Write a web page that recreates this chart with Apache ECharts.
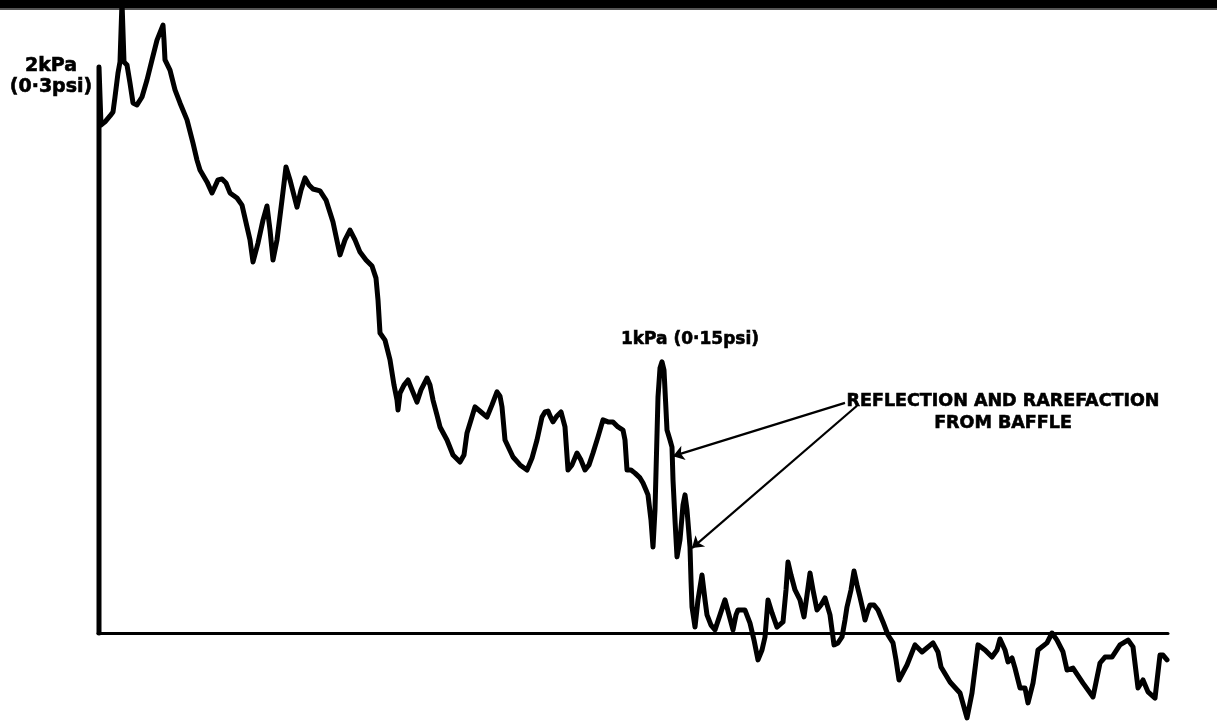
<!DOCTYPE html>
<html>
<head>
<meta charset="utf-8">
<script src="https://cdn.jsdelivr.net/npm/echarts@6/dist/echarts.min.js"></script>
<style>
html,body{margin:0;padding:0;background:#fff;}
#chart{width:1217px;height:723px;}
</style>
</head>
<body>
<div id="chart"></div>
<script>
// time (arbitrary units) and pressure (kPa) of the recorded trace
var timeUnits = [1,1,3,7,12,15,17,20,22,24,26,29,32,35,39,44,49,54,59,65,66,67,72,77,82,89,95,99,102,109,114,120,124,128,132,139,144,149,152,155,160,165,169,172,175,179,184,188,192,199,203,207,211,215,222,228,235,242,247,252,257,262,268,274,278,280,282,287,292,296,299,300,302,306,310,314,319,323,329,332,335,339,342,349,355,362,366,369,373,377,383,389,394,399,402,404,407,415,422,429,434,439,444,447,450,453,455,459,463,467,470,474,479,483,487,491,495,500,505,510,515,520,525,527,529,533,537,542,545,548,550,553,555,557,560,562,564,566,568,569,572,574,575,577,579,582,585,587,589,592,593,594,597,600,604,607,609,613,617,622,627,631,635,638,640,647,652,656,660,664,667,670,674,679,685,688,690,693,697,702,706,709,712,715,719,723,727,732,736,740,744,747,749,753,756,759,762,765,767,770,772,776,780,785,790,795,798,801,809,817,824,835,840,843,852,862,864,869,874,880,887,894,899,902,907,910,914,917,922,927,930,935,940,949,954,959,965,969,975,985,995,1002,1007,1014,1022,1030,1035,1040,1045,1050,1057,1062,1065,1069];
var pressureKPa = [0,2.000,1.795,1.806,1.827,1.841,1.894,1.979,2.018,2.230,2.018,2.007,1.943,1.873,1.866,1.894,1.954,2.025,2.095,2.148,2.095,2.025,1.989,1.919,1.873,1.813,1.731,1.671,1.636,1.594,1.555,1.601,1.604,1.590,1.555,1.537,1.512,1.435,1.389,1.311,1.378,1.459,1.509,1.424,1.318,1.389,1.530,1.647,1.601,1.505,1.565,1.608,1.583,1.569,1.562,1.530,1.452,1.336,1.389,1.424,1.389,1.346,1.318,1.297,1.254,1.177,1.060,1.035,0.965,0.876,0.823,0.788,0.848,0.876,0.894,0.859,0.816,0.859,0.901,0.876,0.823,0.770,0.728,0.682,0.629,0.604,0.629,0.707,0.753,0.799,0.781,0.763,0.806,0.852,0.837,0.799,0.682,0.622,0.594,0.576,0.618,0.682,0.763,0.781,0.784,0.760,0.746,0.767,0.781,0.728,0.576,0.594,0.636,0.611,0.576,0.594,0.636,0.693,0.753,0.746,0.746,0.728,0.717,0.682,0.576,0.576,0.565,0.548,0.530,0.505,0.488,0.399,0.304,0.435,0.834,0.936,0.958,0.929,0.788,0.717,0.682,0.657,0.541,0.399,0.269,0.329,0.452,0.488,0.435,0.304,0.187,0.092,0.021,0.117,0.205,0.117,0.064,0.028,0.011,0.064,0.117,0.064,0.011,0.064,0.081,0.081,0.035,-0.025,-0.095,-0.060,-0.014,0.117,0.071,0.021,0.039,0.152,0.251,0.205,0.152,0.117,0.057,0.134,0.212,0.152,0.081,0.099,0.124,0.064,-0.042,-0.035,-0.014,0.046,0.092,0.152,0.219,0.170,0.127,0.081,0.046,0.081,0.099,0.099,0.081,0.039,-0.007,-0.035,-0.095,-0.166,-0.113,-0.042,-0.067,-0.035,-0.067,-0.120,-0.173,-0.212,-0.237,-0.300,-0.212,-0.042,-0.060,-0.085,-0.060,-0.021,-0.060,-0.102,-0.088,-0.124,-0.194,-0.194,-0.247,-0.177,-0.060,-0.035,0,-0.025,-0.067,-0.131,-0.124,-0.177,-0.226,-0.106,-0.085,-0.085,-0.042,-0.025,-0.049,-0.194,-0.166,-0.208,-0.230,-0.078,-0.078,-0.095];

// annotation arrows: [start time, start kPa, tip time, tip kPa]
var arrowReflection = [747, 0.813, 575, 0.625];
var arrowRarefaction = [759, 0.803, 594, 0.300];

// texts
var scaleLabelTop = ['2kPa', '(0·3psi)'];
var peakLabel = '1kPa (0·15psi)';
var noteLines = ['REFLECTION AND RAREFACTION', 'FROM BAFFLE'];

var traceData = timeUnits.map(function (t, i) { return [t, pressureKPa[i]]; });

var chart = echarts.init(document.getElementById('chart'), null, {renderer: 'canvas'});
var textFont = '"DejaVu Sans", "Liberation Sans", sans-serif';

function arrowPair(a) {
  return [{coord: [a[0], a[1]]}, {coord: [a[2], a[3]]}];
}

function label(text, x, y, size) {
  return {type: 'text', x: x, y: y, style: {
    text: text, fill: '#000', stroke: '#000', lineWidth: 0.6,
    font: 'bold ' + size + 'px ' + textFont, textAlign: 'center', textVerticalAlign: 'middle'}};
}

chart.setOption({
  backgroundColor: '#ffffff',
  animation: false,
  grid: {left: 98, right: 49, top: 10.4, bottom: 5.1, containLabel: false},
  xAxis: {
    type: 'value', min: 0, max: 1070,
    axisLine: {show: true, onZero: true, lineStyle: {color: '#000', width: 3}},
    axisTick: {show: false}, axisLabel: {show: false}, splitLine: {show: false}
  },
  yAxis: {
    type: 'value', min: -0.3, max: 2.2,
    axisLine: {show: false}, axisTick: {show: false}, axisLabel: {show: false}, splitLine: {show: false}
  },
  series: [{
    type: 'line',
    data: traceData,
    showSymbol: false,
    symbol: 'none',
    clip: false,
    smooth: false,
    lineStyle: {color: '#000', width: 5, join: 'round', cap: 'round'},
    silent: true,
    markLine: {
      silent: true,
      symbol: ['none', 'arrow'],
      symbolSize: 11,
      label: {show: false},
      lineStyle: {color: '#000', width: 2.2, type: 'solid'},
      data: [arrowPair(arrowReflection), arrowPair(arrowRarefaction)]
    }
  }],
  graphic: [
    {type: 'rect', left: 0, top: 0, shape: {width: 1217, height: 8}, style: {fill: '#000'}},
    {type: 'rect', left: 0, top: 8, shape: {width: 1217, height: 2}, style: {fill: '#555'}},
    label(scaleLabelTop[0], 51, 66, 19),
    label(scaleLabelTop[1], 51, 87, 19),
    label(peakLabel, 690, 340, 17),
    label(noteLines[0], 1003, 401, 17.5),
    label(noteLines[1], 1003, 423, 17.5)
  ]
});
</script>
</body>
</html>
